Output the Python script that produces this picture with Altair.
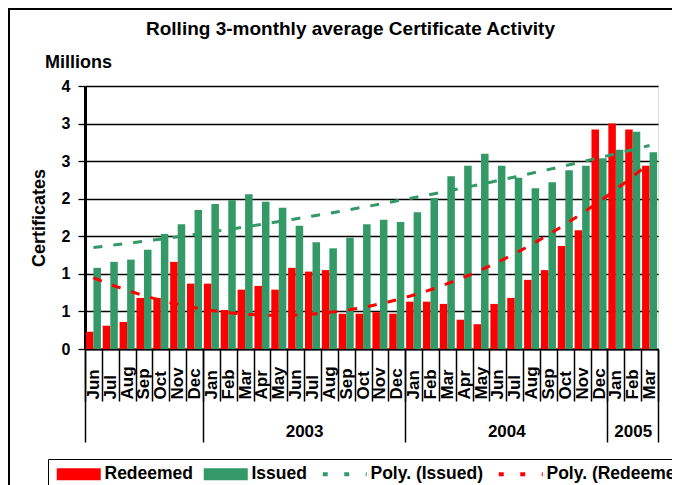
import altair as alt
import pandas as pd

# ---- data ----
months = ["Jun", "Jul", "Aug", "Sep", "Oct", "Nov", "Dec",
          "Jan", "Feb", "Mar", "Apr", "May", "Jun", "Jul", "Aug", "Sep", "Oct", "Nov", "Dec",
          "Jan", "Feb", "Mar", "Apr", "May", "Jun", "Jul", "Aug", "Sep", "Oct", "Nov", "Dec",
          "Jan", "Feb", "Mar"]
years = [2002] * 7 + [2003] * 12 + [2004] * 12 + [2005] * 3
redeemed = [0.23, 0.31, 0.36, 0.68, 0.68, 1.16, 0.87,
            0.87, 0.52, 0.79, 0.84, 0.79, 1.08, 1.03, 1.05, 0.47, 0.47, 0.49, 0.47,
            0.63, 0.63, 0.60, 0.39, 0.33, 0.60, 0.68, 0.92, 1.05, 1.37, 1.58, 2.92,
            3.00, 2.92, 2.44]
issued = [1.08, 1.16, 1.19, 1.32, 1.53, 1.66, 1.85,
          1.93, 1.98, 2.06, 1.96, 1.88, 1.64, 1.42, 1.34, 1.48, 1.66, 1.72, 1.69,
          1.82, 2.01, 2.30, 2.44, 2.60, 2.44, 2.28, 2.14, 2.22, 2.38, 2.44, 2.54,
          2.65, 2.89, 2.62]
year_groups = [2002, 2003, 2004, 2005]
year_group_labels = ["", "2003", "2004", "2005"]
series_names = ["Redeemed", "Issued"]
trend_names = ["Poly. (Issued)", "Poly. (Redeemed)"]
y_ticks = [0, 0.5, 1, 1.5, 2, 2.5, 3, 3.5]

# ---- tables ----
keys = [f"{m} {y}" for m, y in zip(months, years)]
rows = []
for i, (k, r, s) in enumerate(zip(keys, redeemed, issued)):
    rows.append({"idx": i, "key": k, "series": "Redeemed", "value": r})
    rows.append({"idx": i, "key": k, "series": "Issued", "value": s})
df = pd.DataFrame(rows)

bounds = [-0.5]
grp_rows = []
for yv, lab in zip(year_groups, year_group_labels):
    ids = [i for i, y in enumerate(years) if y == yv]
    bounds.append(max(ids) + 0.5)
    grp_rows.append({"mid": (min(ids) + max(ids)) / 2, "label": lab})
gdf = pd.DataFrame(grp_rows)
label_mids = [r["mid"] for r in grp_rows if r["label"]]
year_expr = " : ".join(f"datum.value == {r['mid']} ? '{r['label']}'" for r in grp_rows if r["label"]) + " : ''"

W, H = 573, 263
FONT = "Liberation Sans"
RED, GREEN = "#FF0000", "#339966"

color_scale = alt.Scale(domain=series_names + trend_names, range=[RED, GREEN, GREEN, RED])
qx_scale = alt.Scale(domain=[-0.5, len(months) - 0.5], nice=False, zero=False)

y_enc = alt.Y("value:Q",
              scale=alt.Scale(domain=[0, 3.5], nice=False, zero=True),
              axis=alt.Axis(values=y_ticks, labelExpr="format(round(datum.value), 'd')",
                            title="Certificates", titleFontSize=18, titleFontWeight="bold",
                            titleColor="black", titlePadding=13,
                            labelFontSize=16, labelFontWeight="bold", labelColor="black",
                            labelPadding=8, tickSize=7, tickColor="black", tickWidth=1.3,
                            domainColor="black", domainWidth=3,
                            grid=True, gridColor="black", gridWidth=1.3, gridOpacity=1))

is_bar = "(datum.value == 'Redeemed' || datum.value == 'Issued')"
rect_path = "M-3.667,-1H3.667V1H-3.667Z"
line_path = "M-3.667,0H3.667"
legend = alt.Legend(title=None, orient="none", legendX=-37, legendY=373,
                    direction="horizontal", columns=4,
                    symbolType={"expr": f"{is_bar} ? '{rect_path}' : '{line_path}'"},
                    symbolSize=144, symbolOffset=16, labelOffset=17,
                    symbolStrokeColor={"expr": "scale('color', datum.value)"},
                    symbolStrokeWidth={"expr": f"{is_bar} ? 0 : 4"},
                    symbolDash={"expr": f"{is_bar} ? [1, 0] : [5, 16.5]"},
                    symbolOpacity=1,
                    labelFont=FONT, labelFontSize=17.5, labelFontWeight="bold", labelColor="black",
                    labelLimit=300, columnPadding=7, padding=6, strokeColor="black")

bars = alt.Chart(df).mark_bar().encode(
    x=alt.X("key:N", sort=keys, scale=alt.Scale(paddingInner=0, paddingOuter=0),
            axis=alt.Axis(title=None, orient="bottom", tickBand="extent", tickSize=52,
                          tickColor="black", tickWidth=1.5,
                          labelAngle=-90, labelAlign="left", labelBaseline="middle",
                          labelPadding=-2, labelExpr="slice(datum.label, 0, 3)",
                          labelFontSize=17, labelFontWeight="bold", labelColor="black",
                          labelOverlap=False, domainColor="black", domainWidth=2, grid=False)),
    xOffset=alt.XOffset("series:N", sort=series_names,
                        scale=alt.Scale(paddingOuter=0.12, paddingInner=0)),
    y=y_enc,
    color=alt.Color("series:N", scale=color_scale, legend=legend),
)

lines = alt.Chart(df).transform_regression(
    "idx", "value", groupby=["series"], method="poly", order=2, extent=[0, len(months) - 1]
).transform_calculate(
    trend="'Poly. (' + datum.series + ')'"
).mark_line(strokeDash=[9, 11], strokeWidth=3).encode(
    x=alt.X("idx:Q", scale=qx_scale,
            axis=alt.Axis(values=bounds, orient="bottom", tickSize=93, tickColor="black",
                          tickWidth=1.5, labels=False, domain=False, grid=False, title=None)),
    y=y_enc,
    color=alt.Color("trend:N", scale=color_scale, legend=None),
)

year_axis = alt.Chart(gdf).mark_point(opacity=0).encode(
    x=alt.X("mid:Q", scale=qx_scale,
            axis=alt.Axis(values=label_mids, labelExpr=year_expr, orient="bottom",
                          ticks=False, domain=False, grid=False, title=None,
                          labelPadding=74, labelFontSize=17, labelFontWeight="bold",
                          labelColor="black", labelOverlap=False, labelFlush=False)),
    y=alt.value(0),
)

millions = alt.Chart(alt.Data(values=[{"t": "Millions"}])).mark_text(
    align="left", baseline="alphabetic", fontSize=18, fontWeight="bold", font=FONT, color="black"
).encode(x=alt.value(-40), y=alt.value(-18), text="t:N")

frame = alt.Chart(alt.Data(values=[{"f": 1}])).mark_rect(
    fillOpacity=0, stroke="black", strokeWidth=2
).encode(x=alt.value(-76), x2=alt.value(W + 100), y=alt.value(-77), y2=alt.value(H + 200))

chart = alt.layer(frame, bars, lines, year_axis, millions).resolve_scale(
    x="independent"
).properties(
    width=W, height=H,
    title=alt.TitleParams("Rolling 3-monthly average Certificate Activity",
                          fontSize=19, fontWeight="bold", font=FONT, color="black",
                          anchor="middle", baseline="alphabetic", dx=-21, offset=-46),
    autosize=alt.AutoSizeParams(type="none"),
    padding={"left": 77, "top": 78, "right": 14, "bottom": 136},
).configure_view(stroke="black", strokeWidth=3).configure(font=FONT)

chart.save("out.html", embed_options={"renderer": "svg", "actions": False})
